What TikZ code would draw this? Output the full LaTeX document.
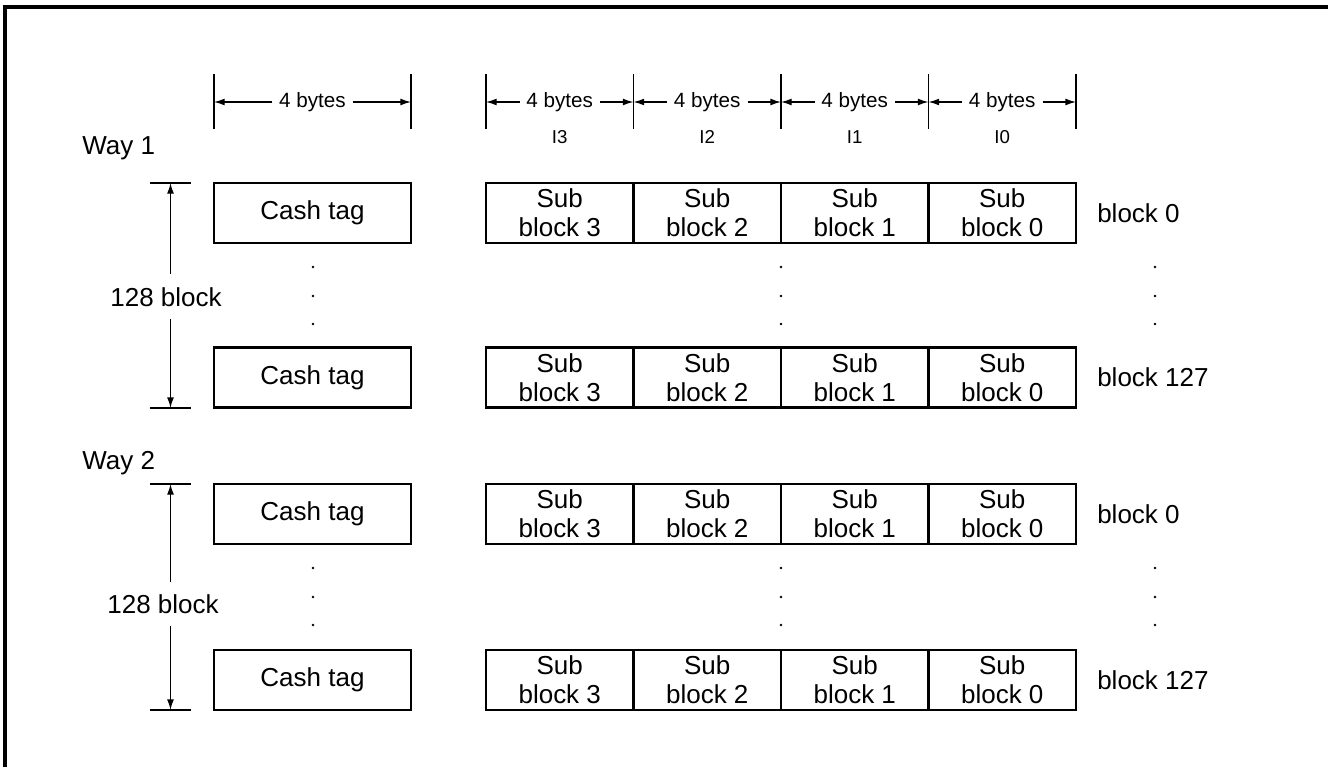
\documentclass[tikz,border=0pt]{standalone}
\usepackage{fontspec}
\setmainfont{Liberation Sans}
\usetikzlibrary{arrows.meta}
\begin{document}
\begin{tikzpicture}[x=0.75pt,y=-0.75pt,
  box/.style={draw,line width=1.8pt,minimum height=45pt,inner sep=0pt,font=\fontsize{19.5}{22}\selectfont,align=center},
  tagbox/.style={box,minimum width=147.75pt},
  subbox/.style={box,minimum width=110.6pt},
  lbl/.style={font=\fontsize{19.5}{22.5}\selectfont,inner sep=0pt},
  dimlbl/.style={font=\fontsize{15.5}{18}\selectfont,inner sep=5pt},
  idx/.style={font=\fontsize{14}{16}\selectfont,inner sep=0pt},
  tick/.style={line width=1pt},
  dimarr/.style={line width=1pt,-{Latex[length=8pt,width=5.2pt]}},
  dot/.style={circle,fill,inner sep=0pt,minimum size=2.2pt}
]
\useasboundingbox (0,0) rectangle (1328,767);
% outer frame
\draw[line width=2.3pt] (5,767) -- (5,7) -- (1328,7);

% top-left dimension
\draw[tick] (214,74) -- (214,129);
\draw[tick] (411,74) -- (411,129);
\coordinate (tl0) at (214,102);
\coordinate (tl1) at (411,102);
\node[dimlbl] (dl) at (312.5,102) {4 bytes};
\draw[dimarr] (dl.west) -- (tl0);
\draw[dimarr] (dl.east) -- (tl1);

% top-right dimensions
\foreach \i/\x in {0/486,1/633.5,2/781,3/928.5,4/1076}{
  \draw[tick] (\x,74) -- (\x,129);
  \coordinate (tr\i) at (\x,102);
}
\foreach \i/\j/\x/\n in {0/1/559.75/3,1/2/707.25/2,2/3/854.75/1,3/4/1002.25/0}{
  \node[dimlbl] (dr\i) at (\x,102) {4 bytes};
  \draw[dimarr] (dr\i.west) -- (tr\i);
  \draw[dimarr] (dr\i.east) -- (tr\j);
  \node[idx,anchor=base] (ix\i) at (\x,143) {I\n};
}

% way labels
\node[lbl,anchor=west] (way1) at (82,148) {Way 1};
\node[lbl,anchor=west] (way2) at (82,463) {Way 2};

% rows
\foreach \r/\y/\b in {a/213/0,b/377.5/127,c/514/0,d/680/127}{
  \node[tagbox] (tag\r) at (312.5,\y) {Cash tag};
  \node[subbox] (s\r3) at (559.75,\y) {Sub\\block 3};
  \node[subbox] (s\r2) at (707.25,\y) {Sub\\block 2};
  \node[subbox] (s\r1) at (854.75,\y) {Sub\\block 1};
  \node[subbox] (s\r0) at (1002.25,\y) {Sub\\block 0};
  \node[lbl,anchor=west] (bl\r) at (1097,\y) {block \b};
}

% dots
\foreach \k/\y in {a/267,b/296,c/324,d/568,e/597,f/625}{
  \node[dot] (dt\k) at (313,\y) {};
  \node[dot] (dm\k) at (781,\y) {};
  \node[dot] (dr\k) at (1155,\y) {};
}

% vertical dimension, way 1
\draw[tick] (150,183) -- (191,183);
\draw[tick] (150,408) -- (191,408);
\coordinate (v1t) at (170.5,183);
\coordinate (v1b) at (170.5,408);
\coordinate (v1tu) at (170.5,274);
\coordinate (v1bl) at (170.5,319);
\node[lbl] (n1) at (166,297) {128 block};
\draw[dimarr] (v1tu) -- (v1t);
\draw[dimarr] (v1bl) -- (v1b);

% vertical dimension, way 2
\draw[tick] (150,484) -- (191,484);
\draw[tick] (150,710) -- (191,710);
\coordinate (v2t) at (170.5,484);
\coordinate (v2b) at (170.5,710);
\coordinate (v2tu) at (170.5,582);
\coordinate (v2bl) at (170.5,626);
\node[lbl] (n2) at (163,604) {128 block};
\draw[dimarr] (v2tu) -- (v2t);
\draw[dimarr] (v2bl) -- (v2b);
\end{tikzpicture}
\end{document}
